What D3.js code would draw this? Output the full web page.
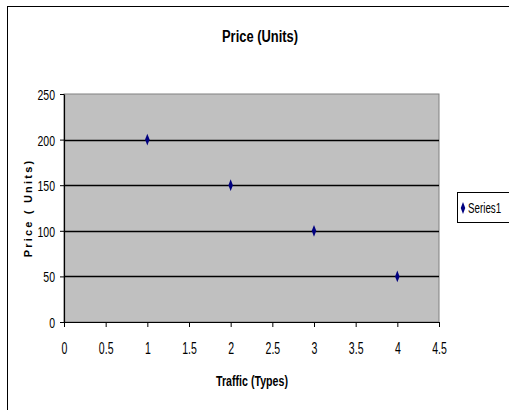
<!DOCTYPE html>
<html>
<head>
<meta charset="utf-8">
<script src="https://cdn.jsdelivr.net/npm/d3@7"></script>
<style>
  html, body { margin: 0; padding: 0; background: #fff; }
  svg { display: block; }
</style>
</head>
<body>
<svg id="chart" width="509" height="410"></svg>
<script>
// Data
const traffic = [1, 2, 3, 4];
const price = [200, 150, 100, 50];
const xTicks = [0, 0.5, 1, 1.5, 2, 2.5, 3, 3.5, 4, 4.5];
const yTicks = [0, 50, 100, 150, 200, 250];
const seriesName = "Series1";

const FONT = '"Liberation Sans", Arial, sans-serif';
const svg = d3.select("#chart");

// Draws horizontally condensed text (narrow face look) anchored at (x, y)
function narrowText(parent, x, y, str, opts) {
  const sx = opts.sx || 0.75;
  return parent.append("text")
    .attr("transform", `translate(${x},${y}) scale(${sx},1)`)
    .attr("text-anchor", opts.anchor || "middle")
    .attr("font-family", FONT)
    .attr("font-size", opts.size || 12)
    .attr("font-weight", opts.weight || "normal")
    .attr("fill", "#000")
    .text(str);
}

// Outer chart frame
svg.append("rect")
  .attr("x", 7.5).attr("y", 6.5)
  .attr("width", 520).attr("height", 420)
  .attr("fill", "#fff").attr("stroke", "#000").attr("stroke-width", 1);

const plot = { left: 64, right: 439, top: 94, bottom: 322 };

const x = d3.scaleLinear().domain([0, 4.5]).range([plot.left, plot.right]);
const y = d3.scaleLinear().domain([0, 250]).range([plot.bottom, plot.top]);

// Plot background
svg.append("rect")
  .attr("x", plot.left).attr("y", plot.top)
  .attr("width", plot.right - plot.left).attr("height", plot.bottom - plot.top)
  .attr("fill", "#c0c0c0").attr("stroke", "#808080").attr("stroke-width", 1);

// Horizontal gridlines
svg.append("g").selectAll("line")
  .data(yTicks.filter(d => d > 0 && d < 250))
  .join("line")
  .attr("x1", plot.left).attr("x2", plot.right)
  .attr("y1", d => Math.round(y(d)) + 0.5).attr("y2", d => Math.round(y(d)) + 0.5)
  .attr("stroke", "#000").attr("stroke-width", 1.6);

// Axes
const yAxis = svg.append("g")
  .attr("transform", `translate(${plot.left},0)`)
  .call(d3.axisLeft(y).tickValues(yTicks).tickSize(4).tickSizeOuter(0));

const xAxis = svg.append("g")
  .attr("transform", `translate(0,${plot.bottom})`)
  .call(d3.axisBottom(x).tickValues(xTicks).tickSize(5)
    .tickFormat(d => String(d)).tickSizeOuter(0));

[yAxis, xAxis].forEach(g => {
  g.selectAll("line").attr("stroke", "#000");
  g.select(".domain").attr("stroke", "#000").attr("stroke-width", 1.2);
  g.selectAll("text").attr("font-family", FONT).attr("fill", "#000");
});

// Condensed tick labels
yAxis.selectAll(".tick text")
  .attr("x", 0).attr("dy", 0).attr("y", 0)
  .attr("font-size", 15)
  .attr("text-anchor", "end")
  .attr("transform", "translate(-9,5.5) scale(0.7,1)");

xAxis.selectAll(".tick text")
  .attr("y", 0).attr("dy", 0)
  .attr("font-size", 17)
  .attr("text-anchor", "middle")
  .attr("transform", "translate(0,32) scale(0.62,1)");

// Points
const diamond = d3.symbol().type(d3.symbolDiamond).size(28);
svg.append("g").selectAll("path")
  .data(traffic.map((t, i) => ({ t, p: price[i] })))
  .join("path")
  .attr("d", diamond)
  .attr("transform", d => `translate(${x(d.t)},${y(d.p)}) scale(0.8,1.2)`)
  .attr("fill", "#000080");

// Title
narrowText(svg, 260, 42, "Price (Units)", { size: 17, weight: "bold", sx: 0.76 });

// Axis titles
narrowText(svg, 252, 386, "Traffic (Types)", { size: 14, weight: "bold", sx: 0.76 });

svg.append("text")
  .attr("transform", `translate(32,208) rotate(-90)`)
  .attr("text-anchor", "middle")
  .attr("font-family", FONT)
  .attr("font-size", 11).attr("font-weight", "bold")
  .attr("letter-spacing", 2.2)
  .text("Price ( Units)");

// Legend
const legend = svg.append("g");
legend.append("rect")
  .attr("x", 457.5).attr("y", 192.5)
  .attr("width", 70).attr("height", 30)
  .attr("fill", "#fff").attr("stroke", "#000").attr("stroke-width", 1);
legend.append("path")
  .attr("d", diamond)
  .attr("transform", "translate(463,208) scale(0.8,1.2)")
  .attr("fill", "#000080");
narrowText(legend, 468, 213, seriesName, { size: 14, anchor: "start", sx: 0.7 });
</script>
</body>
</html>
